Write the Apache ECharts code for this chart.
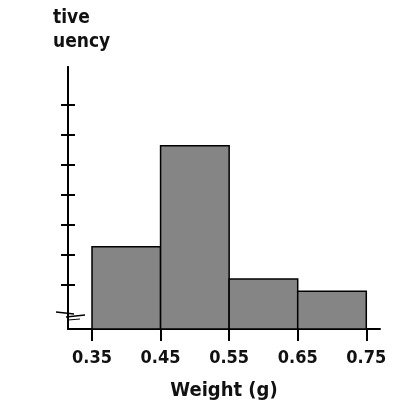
<!DOCTYPE html>
<html><head><meta charset="utf-8">
<script src="https://cdn.jsdelivr.net/npm/echarts@6/dist/echarts.min.js"></script>
<style>html,body{margin:0;padding:0;background:#fff}#c{width:393px;height:407px}</style>
</head><body><div id="c"></div>
<script>
// bin edges (g) and relative frequency values
const binStarts = [0.35, 0.45, 0.55, 0.65];
const binEnds   = [0.45, 0.55, 0.65, 0.75];
const relFreq   = [0.164, 0.332, 0.11, 0.09];
const xTicks    = [0.35, 0.45, 0.55, 0.65, 0.75];
const yTicks    = [0.10, 0.15, 0.20, 0.25, 0.30, 0.35, 0.40];
const xMin = 0.315, xMax = 0.77;
const yMin = 0.027, yMax = 0.463;

const chart = echarts.init(document.getElementById('c'));
const fontFam = '"DejaVu Sans Condensed","DejaVu Sans",sans-serif';
const yAxisBase = {
  type: 'value', min: yMin, max: yMax, position: 'left',
  splitLine: {show: false}, axisLabel: {show: false},
  axisLine: {show: true, onZero: false, lineStyle: {color: '#000', width: 2}}
};
chart.setOption({
  animation: false,
  grid: {left: 68, right: 13, top: 67, bottom: 78},
  graphic: [
    {type: 'text', left: 53, top: 9, style: {text: 'tive', font: 'bold 19px ' + fontFam, fill: '#111'}},
    {type: 'text', left: 53, top: 33, style: {text: 'uency', font: 'bold 19px ' + fontFam, fill: '#111'}},
    {type: 'line', shape: {x1: 56, y1: 312, x2: 74, y2: 314}, style: {stroke: '#000', lineWidth: 1.5}},
    {type: 'line', shape: {x1: 66, y1: 317, x2: 85, y2: 315}, style: {stroke: '#000', lineWidth: 1.5}},
    {type: 'line', shape: {x1: 68, y1: 320, x2: 80, y2: 319}, style: {stroke: '#000', lineWidth: 1}}
  ],
  xAxis: {
    type: 'value', min: xMin, max: xMax,
    name: 'Weight (g)', nameLocation: 'middle', nameGap: 52,
    nameTextStyle: {fontFamily: fontFam, fontWeight: 'bold', fontSize: 20, color: '#111'},
    splitLine: {show: false},
    axisLine: {onZero: false, lineStyle: {color: '#000', width: 2}},
    axisTick: {customValues: xTicks, length: 12, lineStyle: {color: '#000', width: 2}},
    axisLabel: {customValues: xTicks, margin: 20, fontFamily: fontFam, fontWeight: 'bold', fontSize: 18, color: '#111',
      formatter: v => v.toFixed(2)}
  },
  yAxis: [
    Object.assign({}, yAxisBase, {axisTick: {customValues: yTicks, inside: false, length: 7, lineStyle: {color: '#000', width: 2}}}),
    Object.assign({}, yAxisBase, {axisTick: {customValues: yTicks, inside: true, length: 7, lineStyle: {color: '#000', width: 2}}})
  ],
  series: [{
    type: 'custom',
    data: binStarts.map((s, i) => [s, binEnds[i], relFreq[i]]),
    encode: {x: [0, 1], y: 2},
    renderItem: function (params, api) {
      const p0 = api.coord([api.value(0), yMin]);
      const p1 = api.coord([api.value(1), api.value(2)]);
      return {
        type: 'rect',
        shape: {x: p0[0], y: p1[1], width: p1[0] - p0[0], height: p0[1] - p1[1]},
        style: {fill: '#858585', stroke: '#000', lineWidth: 1.5}
      };
    }
  }]
});
</script></body></html>
